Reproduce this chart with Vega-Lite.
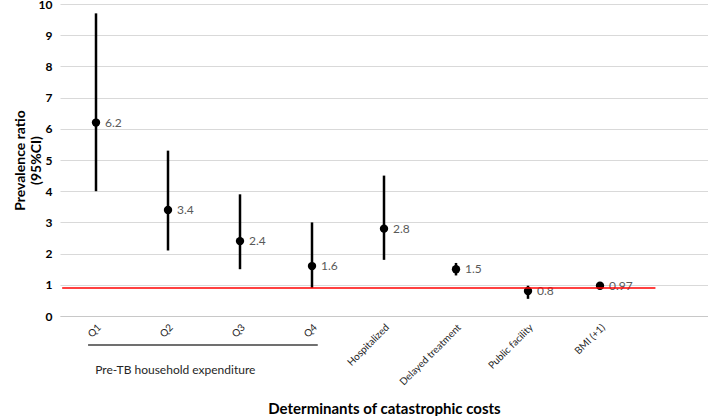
{
  "$schema": "https://vega.github.io/schema/vega-lite/v6.json",
  "width": 648,
  "height": 312,
  "padding": {"left": 60, "top": 4, "right": 0, "bottom": 100},
  "autosize": {"type": "none"},
  "config": {
    "font": "Lato",
    "view": {"stroke": null},
    "axisY": {
      "values": [0, 0.5, 1, 1.5, 2, 2.5, 3, 3.5, 4, 4.5, 5, 5.5, 6, 6.5, 7, 7.5, 8, 8.5, 9, 9.5, 10],
      "labelExpr": "datum.value % 1 === 0 ? datum.label : ''",
      "labelOverlap": false,
      "labelFlush": false,
      "labelFontWeight": "bold",
      "labelFontSize": 12,
      "labelColor": "#000000",
      "labelPadding": 8,
      "ticks": false,
      "domain": false,
      "titleFontSize": 14,
      "titleFontWeight": "bold",
      "titleColor": "#000000",
      "titlePadding": -5,
      "gridColor": {"condition": {"test": "datum.value % 1 === 0", "value": "#d9d9d9"}, "value": "#efefef"}
    }
  },
  "datasets": {
    "est": [
      {"cat": "Q1", "pr": 6.2, "lo": 4.0, "hi": 9.7, "lab": "6.2"},
      {"cat": "Q2", "pr": 3.4, "lo": 2.1, "hi": 5.3, "lab": "3.4"},
      {"cat": "Q3", "pr": 2.4, "lo": 1.5, "hi": 3.9, "lab": "2.4"},
      {"cat": "Q4", "pr": 1.6, "lo": 0.9, "hi": 3.0, "lab": "1.6"},
      {"cat": "Hospitalized", "pr": 2.8, "lo": 1.8, "hi": 4.5, "lab": "2.8"},
      {"cat": "Delayed treatment", "pr": 1.5, "lo": 1.3, "hi": 1.7, "lab": "1.5"},
      {"cat": "Public facility", "pr": 0.8, "lo": 0.55, "hi": 0.97, "lab": "0.8"},
      {"cat": "BMI (+1)", "pr": 0.97, "lo": 0.93, "hi": 1.01, "lab": "0.97"}
    ],
    "ref": [{"y": 0.9, "x1": 0.03, "x2": 8.27}],
    "group": [{"label": "Pre-TB household expenditure", "x1": 0.39, "x2": 3.58, "xt": 0.49, "yl": -0.93, "yt": -1.73}]
  },
  "layer": [
    {
      "data": {"name": "est"},
      "encoding": {
        "x": {
          "field": "cat",
          "type": "nominal",
          "scale": {
            "type": "band",
            "domain": ["Q1", "Q2", "Q3", "Q4", "Hospitalized", "Delayed treatment", "Public facility", "BMI (+1)"],
            "paddingInner": 0,
            "paddingOuter": 0.5,
            "align": 0
          },
          "axis": {
            "title": "Determinants of catastrophic costs",
            "titleFontSize": 15,
            "titleFontWeight": "bold",
            "titleColor": "#000000",
            "titleY": 97,
            "titleBaseline": "alphabetic",
            "labelAngle": -45,
            "labelFontSize": 10,
            "labelColor": "#262626",
            "labelPadding": 6,
            "labelOverlap": false,
            "labelBound": false,
            "ticks": false,
            "domain": true,
            "domainColor": "#c8c8c8",
            "grid": false
          }
        }
      },
      "layer": [
        {
          "mark": {"type": "rule", "color": "#000000", "strokeWidth": 2.5},
          "encoding": {
            "y": {
              "field": "lo",
              "type": "quantitative",
              "scale": {"domain": [0, 10], "nice": false},
              "axis": {"title": ["Prevalence ratio", "(95%CI)"]}
            },
            "y2": {"field": "hi"}
          }
        },
        {
          "mark": {"type": "point", "filled": true, "color": "#000000", "size": 70, "opacity": 1},
          "encoding": {"y": {"field": "pr", "type": "quantitative"}}
        },
        {
          "mark": {"type": "text", "align": "left", "baseline": "middle", "dx": 9, "fontSize": 12, "color": "#595959"},
          "encoding": {"y": {"field": "pr", "type": "quantitative"}, "text": {"field": "lab"}}
        }
      ]
    },
    {
      "data": {"name": "ref"},
      "mark": {"type": "rule", "color": "#ff0000", "strokeWidth": 1.5},
      "encoding": {
        "x": {"field": "x1", "type": "quantitative", "scale": {"domain": [0, 9]}, "axis": null},
        "x2": {"field": "x2"},
        "y": {"field": "y", "type": "quantitative"}
      }
    },
    {
      "data": {"name": "group"},
      "layer": [
        {
          "mark": {"type": "rule", "color": "#404040", "strokeWidth": 1.5},
          "encoding": {
            "x": {"field": "x1", "type": "quantitative", "scale": {"domain": [0, 9]}, "axis": null},
            "x2": {"field": "x2"},
            "y": {"field": "yl", "type": "quantitative"}
          }
        },
        {
          "mark": {"type": "text", "align": "left", "baseline": "middle", "fontSize": 12, "color": "#262626"},
          "encoding": {
            "x": {"field": "xt", "type": "quantitative", "scale": {"domain": [0, 9]}, "axis": null},
            "y": {"field": "yt", "type": "quantitative"},
            "text": {"field": "label"}
          }
        }
      ]
    }
  ],
  "resolve": {"scale": {"x": "independent"}}
}
